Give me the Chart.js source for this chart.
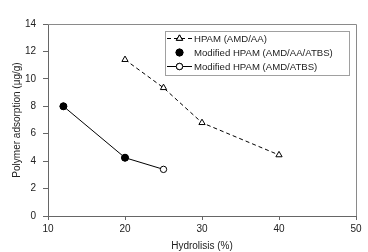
<!DOCTYPE html>
<html>
<head>
<meta charset="utf-8">
<script src="https://cdn.jsdelivr.net/npm/chart.js@4/dist/chart.umd.min.js"></script>
<style>
  html, body { margin: 0; padding: 0; background: #fff; }
  #wrap { width: 368px; height: 252px; position: relative; }
</style>
</head>
<body>
<div id="wrap"><canvas id="chartBase"></canvas></div>
<script>
// datos
const hidrolisisAA = [20, 25, 30, 40];
const adsorcionAA = [11.4, 9.35, 6.8, 4.45];

const hidrolisisAAATBS = [12, 20];
const adsorcionAAATBS = [8.0, 4.25];

const hidrolisisATBS = [12, 20, 25];
const adsorcionATBS = [8.0, 4.25, 3.4];

const etiquetas = ["HPAM (AMD/AA)", "Modified HPAM (AMD/AA/ATBS)", "Modified HPAM (AMD/ATBS)"];
const xTicks = [10, 20, 30, 40, 50];
const yTicks = [0, 2, 4, 6, 8, 10, 12, 14];

const FUENTE = "'Liberation Sans', Arial, sans-serif";

function puntos(xs, ys) {
  const out = [];
  for (let i = 0; i < xs.length; i++) out.push({ x: xs[i], y: ys[i] });
  return out;
}

// marco gris arriba/derecha + leyenda dentro del area
const marcoLeyenda = {
  id: "marcoLeyenda",
  afterDraw: function (chart) {
    const ctx = chart.ctx;
    const a = chart.chartArea;
    ctx.save();
    ctx.strokeStyle = "#8a8a8a";
    ctx.lineWidth = 1;
    ctx.beginPath();
    ctx.moveTo(a.left, a.top + 0.5);
    ctx.lineTo(a.right + 0.5, a.top + 0.5);
    ctx.lineTo(a.right + 0.5, a.bottom);
    ctx.stroke();

    // caja de leyenda
    const bx = 165.5, by = 31.5, bw = 184, bh = 44;
    ctx.strokeStyle = "#a0a0a0";
    ctx.strokeRect(bx, by, bw, bh);

    const filas = [38.5, 52.5, 66.5];
    const ds = chart.data.datasets;
    ctx.font = "9.6px " + FUENTE;
    ctx.textBaseline = "middle";
    ctx.fillStyle = "#222";
    for (let i = 0; i < 3; i++) {
      const y = filas[i];
      const d = ds[i];
      if (d.showLine !== false) {
        ctx.strokeStyle = "#000";
        ctx.setLineDash(d.borderDash || []);
        ctx.beginPath();
        ctx.moveTo(167, y);
        ctx.lineTo(192, y);
        ctx.stroke();
        ctx.setLineDash([]);
      }
      Chart.helpers.drawPoint(ctx, {
        pointStyle: d.pointStyle,
        radius: d.pointRadius,
        borderWidth: 1
      }, 179.5, y);
      ctx.fillStyle = d.pointBackgroundColor;
      ctx.strokeStyle = "#000";
      ctx.fill();
      ctx.stroke();
      ctx.fillStyle = "#222";
      ctx.fillText(etiquetas[i], 194, y + 0.5);
    }
    ctx.restore();
  }
};

const canvas = document.getElementById("chartBase");
new Chart(canvas.getContext("2d"), {
  type: "scatter",
  data: {
    datasets: [
      {
        label: etiquetas[0],
        data: puntos(hidrolisisAA, adsorcionAA),
        showLine: true,
        borderColor: "#000",
        borderWidth: 1,
        borderDash: [4, 3],
        pointStyle: "triangle",
        pointRadius: 3.6,
        pointBackgroundColor: "#fff",
        pointBorderColor: "#000",
        pointBorderWidth: 1
      },
      {
        label: etiquetas[1],
        data: puntos(hidrolisisAAATBS, adsorcionAAATBS),
        showLine: false,
        borderColor: "#000",
        pointStyle: "circle",
        pointRadius: 3.5,
        pointBackgroundColor: "#000",
        pointBorderColor: "#000",
        pointBorderWidth: 1
      },
      {
        label: etiquetas[2],
        data: puntos(hidrolisisATBS, adsorcionATBS),
        showLine: true,
        borderColor: "#000",
        borderWidth: 1,
        pointStyle: "circle",
        pointRadius: 3.2,
        pointBackgroundColor: "#fff",
        pointBorderColor: "#000",
        pointBorderWidth: 1
      }
    ]
  },
  options: {
    responsive: true,
    maintainAspectRatio: false,
    animation: false,
    layout: { padding: { top: 24, right: 12, left: 0, bottom: 0 } },
    plugins: {
      legend: { display: false },
      tooltip: { enabled: false }
    },
    scales: {
      x: {
        type: "linear",
        min: 10,
        max: 50,
        afterBuildTicks: function (s) { s.ticks = xTicks.map(function (v) { return { value: v }; }); },
        afterFit: function (s) { s.height = 36; },
        border: { color: "#666", width: 1 },
        grid: { drawOnChartArea: false, tickLength: 4, color: "#666" },
        ticks: { color: "#222", padding: 3, font: { family: FUENTE, size: 10 } },
        title: {
          display: true,
          text: "Hydrolisis (%)",
          color: "#222",
          font: { family: FUENTE, size: 10 },
          padding: { top: 0, bottom: 0 }
        }
      },
      y: {
        type: "linear",
        min: 0,
        max: 14,
        afterBuildTicks: function (s) { s.ticks = yTicks.map(function (v) { return { value: v }; }); },
        afterFit: function (s) { s.width = 48; },
        border: { color: "#666", width: 1 },
        grid: { drawOnChartArea: false, tickLength: 5, color: "#666" },
        ticks: { color: "#222", padding: 7, font: { family: FUENTE, size: 10 } },
        title: {
          display: true,
          text: "Polymer adsorption (μg/g)",
          color: "#222",
          font: { family: FUENTE, size: 10 },
          padding: { top: 11, bottom: 0 }
        }
      }
    }
  },
  plugins: [marcoLeyenda]
});
</script>
</body>
</html>
